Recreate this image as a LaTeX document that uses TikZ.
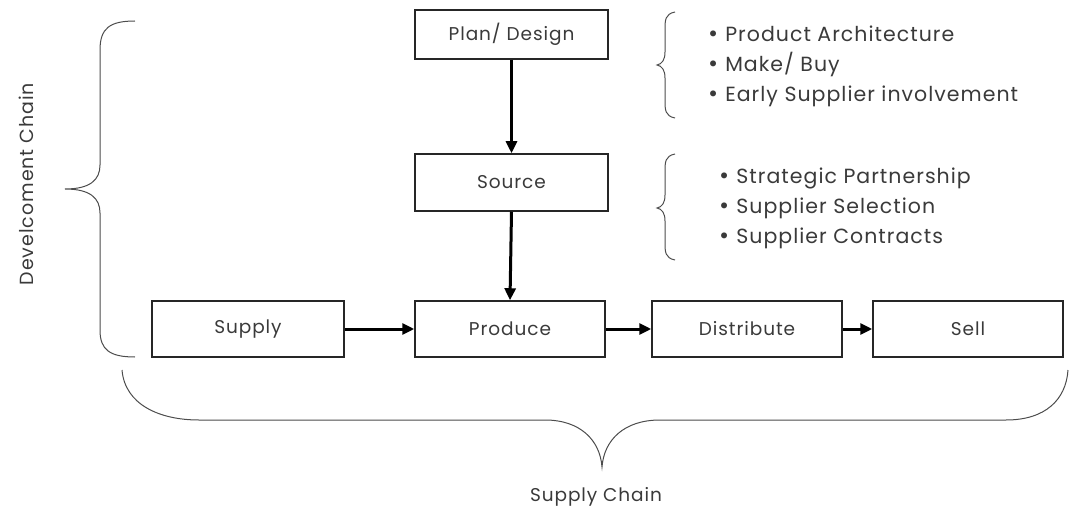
\documentclass[tikz,border=0pt]{standalone}
\usepackage{fontspec}
\setmainfont{Poppins}[LetterSpace=5]
\newfontfamily\bulfont{DejaVu Sans}
\usetikzlibrary{arrows.meta}
\definecolor{txt}{HTML}{3A3A3A}
\newcommand{\bul}{{\bulfont •}\hspace{6pt}}
\tikzset{
  blk/.style={draw=black!85, line width=1.5pt, minimum height=56pt, minimum width=190pt, inner sep=0pt, text=txt, font=\fontsize{18.5}{20}\selectfont},
  flow/.style={line width=3pt, -{Triangle[length=12pt,width=11pt]}},
  brc/.style={draw=black!70, line width=1pt},
  lst/.style={align=left, anchor=west, text=txt, inner sep=0pt, font=\fontsize{20.5}{30}\selectfont},
  lbl/.style={text=txt, inner sep=0pt, font=\fontsize{19}{20}\selectfont}
}
\begin{document}
\begin{tikzpicture}[x=1pt,y=-1pt]
\useasboundingbox (0,0) rectangle (1070,513);
% boxes
\node[blk, minimum width=193pt, minimum height=49pt] (plan) at (511.5,34.5) {Plan/ Design};
\node[blk, minimum width=193pt, minimum height=57pt] (source) at (511.5,182.5) {Source};
\node[blk, minimum width=192pt] (supply) at (248,329) {Supply};
\node[blk] (produce) at (510,329) {Produce};
\node[blk] (distribute) at (747,329) {Distribute};
\node[blk] (sell) at (968,329) {Sell};
% arrows
\draw[flow] (plan.south) -- (source.north);
\draw[flow] (source.south) -- (produce.north);
\draw[flow] (supply.east) -- (produce.west);
\draw[flow] (produce.east) -- (distribute.west);
\draw[flow] (distribute.east) -- (sell.west);
% lists
\node[lst] (list1) at (707,66) {\bul Product Architecture\\ \bul Make/ Buy\\ \bul Early Supplier involvement};
\node[lst] (list2) at (718,208) {\bul Strategic Partnership\\ \bul Supplier Selection\\ \bul Supplier Contracts};
% braces right
\draw[brc] (675,12) .. controls (665,14) and (665,20) .. (665,30) -- (665,52) .. controls (665,60) and (662,64) .. (657,65)
  .. controls (662,66) and (665,70) .. (665,78) -- (665,100) .. controls (665,110) and (665,116) .. (675,118);
\draw[brc] (675,154) .. controls (665,156) and (665,162) .. (665,172) -- (665,195) .. controls (665,203) and (662,207) .. (657,208)
  .. controls (662,209) and (665,213) .. (665,221) -- (665,242) .. controls (665,252) and (665,258) .. (675,260);
% left brace
\draw[brc] (135,21) .. controls (110,21) and (100,28) .. (100,50) -- (100,165) .. controls (100,180) and (90,189) .. (65,189)
  .. controls (90,189) and (100,198) .. (100,213) -- (100,330) .. controls (100,350) and (110,357) .. (135,357);
\node[lbl, rotate=90] (dev) at (26,184) {Develcoment Chain};
% bottom brace
\draw[brc] (122,370) .. controls (125,405) and (160,420) .. (199,420) -- (545,420) .. controls (580,420) and (600,440) .. (602,467)
  .. controls (604,440) and (624,420) .. (660,420) -- (1006,420) .. controls (1045,420) and (1066,400) .. (1068,370);
\node[lbl, font=\fontsize{18.5}{20}\selectfont] (sc) at (596,497) {Supply Chain};
\end{tikzpicture}
\end{document}
